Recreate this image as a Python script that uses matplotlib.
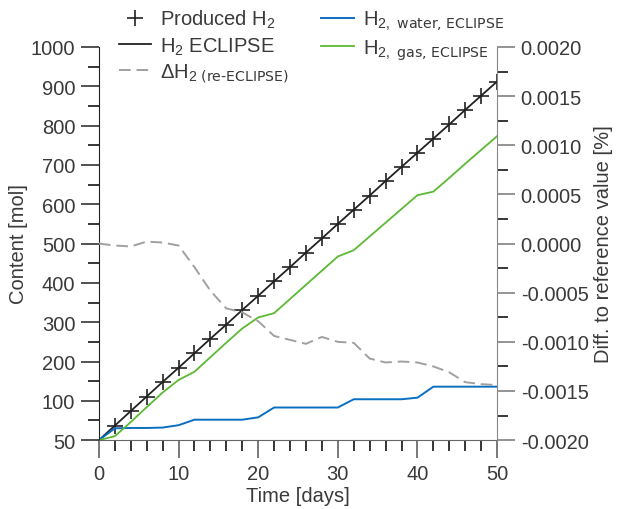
import matplotlib.pyplot as plt
import numpy as np

plt.rcParams['font.family'] = ['Liberation Sans', 'DejaVu Sans']
plt.rcParams['mathtext.default'] = 'regular'

days = np.arange(0, 51, 2)
# produced H2 (markers) and ECLIPSE total (line)
produced = [0, 37, 74, 111, 148, 184, 221, 258, 294, 331, 367, 404, 440,
            477, 513, 550, 586, 622, 659, 695, 731, 767, 803, 840, 876, 912]
h2_eclipse = produced
h2_water = [0, 30, 31, 31, 32, 38, 52, 52, 52, 52, 58, 83, 83,
            83, 83, 83, 104, 104, 104, 104, 108, 136, 136, 136, 136, 136]
h2_gas = [0, 10, 46, 84, 121, 153, 174, 211, 248, 284, 312, 323, 359,
          395, 431, 467, 483, 518, 553, 588, 623, 632, 667, 703, 738, 773]
diff = [0.0, -0.00002, -0.00003, 0.00002, 0.00001, -0.00002, -0.00024,
        -0.00048, -0.00066, -0.0007, -0.00079, -0.00094, -0.00098, -0.00102,
        -0.00095, -0.001, -0.00101, -0.00117, -0.00121, -0.0012, -0.00121,
        -0.00125, -0.00131, -0.00141, -0.00143, -0.00144]

left_ticks = list(range(0, 1001, 100))
left_labels = ['50'] + [str(v) for v in range(100, 1001, 100)]
right_ticks = np.arange(-0.002, 0.00201, 0.0005)
right_labels = ['-0.0020', '-0.0015', '-0.0010', '-0.0005', '0.0000',
                '0.0005', '0.0010', '0.0015', '0.0020']

txt = '#3a3a3a'
fig = plt.figure(figsize=(6.3, 5.1), dpi=100)
ax = fig.add_axes([0.157, 0.135, 0.632, 0.771])
ax2 = ax.twinx()

l1, = ax.plot(days[1:], produced[1:], ls='none', marker='+', ms=11, mew=1.2,
              color='#222222', label='Produced H$_2$')
l2, = ax.plot(days, h2_eclipse, color='#222222', lw=1.3, label='H$_2$ ECLIPSE')
l4, = ax.plot(days, h2_water, color='#0a6fc0', lw=1.4,
              label=r'H$_{2,\ \text{water, ECLIPSE}}$')
l5, = ax.plot(days, h2_gas, color='#5cb933', lw=1.3,
              label=r'H$_{2,\ \text{gas, ECLIPSE}}$')
l3, = ax2.plot(days, diff, color='#a0a0a0', lw=1.4, dashes=(6, 3),
               label=r'ΔH$_{2\ \text{(re-ECLIPSE)}}$')

ax.set_xlim(0, 50)
ax.set_ylim(0, 1000)
ax2.set_ylim(-0.002, 0.002)
ax.set_xticks(range(0, 51, 10))
ax.set_xticks(range(0, 51, 2), minor=True)
ax.set_yticks(left_ticks)
ax.set_yticklabels(left_labels)
ax.set_yticks(range(0, 1001, 50), minor=True)
ax2.set_yticks(right_ticks)
ax2.set_yticklabels(right_labels)
ax2.set_yticks(np.arange(-0.002, 0.00201, 0.00025), minor=True)

for a in (ax, ax2):
    a.spines['top'].set_visible(False)
    a.tick_params(which='major', length=13, width=1.1, labelsize=14.5,
                  labelcolor=txt, pad=4)
    a.tick_params(which='minor', length=8, width=1.1)
ax.spines['left'].set_color('#222222')
ax.spines['bottom'].set_color('#666666')
ax.spines['right'].set_visible(False)
ax2.spines['left'].set_visible(False)
ax2.spines['bottom'].set_visible(False)
ax2.spines['right'].set_color('#888888')
ax.tick_params(axis='x', colors='#555555', labelcolor=txt)
ax.tick_params(axis='y', colors='#222222', labelcolor=txt)
ax2.tick_params(axis='y', colors='#777777', labelcolor=txt)

ax.set_xlabel('Time [days]', fontsize=14.5, color=txt, labelpad=2)
ax.set_ylabel('Content [mol]', fontsize=14.5, color=txt, labelpad=2)
ax2.set_ylabel('Diff. to reference value [%]', fontsize=14.5, color=txt,
               labelpad=4)

fig.legend(handles=[l1, l2, l3, l4, l5], ncol=2, loc='upper left',
           bbox_to_anchor=(0.16, 1.018), frameon=False, fontsize=14.5,
           handlelength=1.6, handletextpad=0.45, columnspacing=1.6,
           labelspacing=0.25, labelcolor=txt)

fig.savefig('out.png', dpi=100)
